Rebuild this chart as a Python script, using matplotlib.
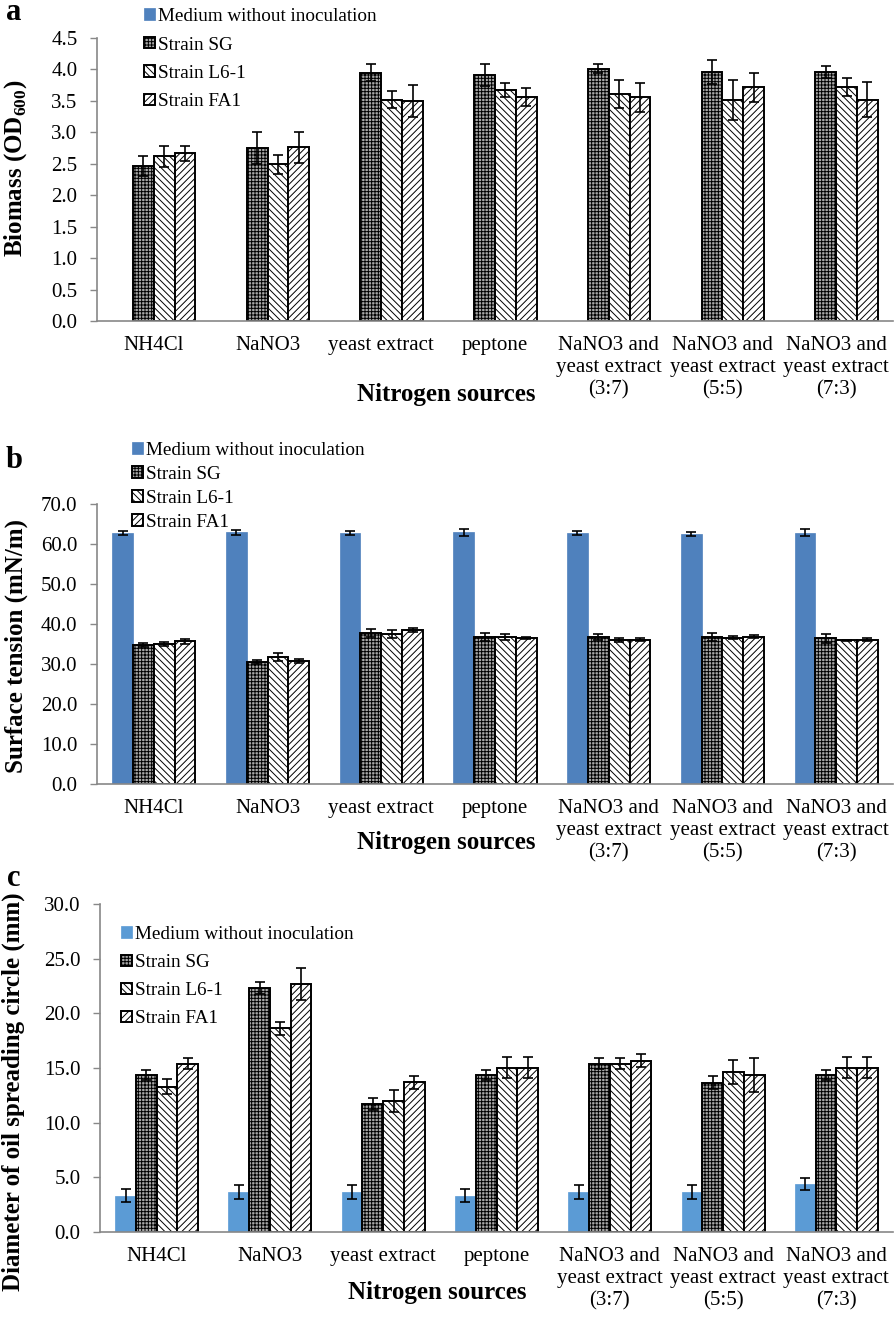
import numpy as np
import matplotlib
matplotlib.use("Agg")
import matplotlib.pyplot as plt

plt.rcParams['font.family'] = ['Liberation Serif', 'DejaVu Serif']
plt.rcParams['mathtext.fontset'] = 'custom'
plt.rcParams['mathtext.rm'] = 'Liberation Serif'
plt.rcParams['mathtext.bf'] = 'Liberation Serif:bold'
plt.rcParams['hatch.linewidth'] = 0.7

categories = ["NH4Cl", "NaNO3", "yeast extract", "peptone",
              "NaNO3 and\nyeast extract\n(3:7)",
              "NaNO3 and\nyeast extract\n(5:5)",
              "NaNO3 and\nyeast extract\n(7:3)"]
series = ["Medium without inoculation", "Strain SG", "Strain L6-1", "Strain FA1"]

# Panel a: biomass (OD600)
bio_medium = [0, 0, 0, 0, 0, 0, 0]
bio_medium_err = [0, 0, 0, 0, 0, 0, 0]
bio_sg = [2.46, 2.75, 3.95, 3.91, 4.01, 3.96, 3.96]
bio_sg_err = [0.16, 0.26, 0.13, 0.17, 0.07, 0.19, 0.09]
bio_l61 = [2.62, 2.49, 3.52, 3.67, 3.61, 3.51, 3.72]
bio_l61_err = [0.17, 0.15, 0.14, 0.11, 0.23, 0.32, 0.15]
bio_fa1 = [2.67, 2.76, 3.50, 3.56, 3.56, 3.72, 3.52]
bio_fa1_err = [0.12, 0.25, 0.26, 0.14, 0.23, 0.23, 0.28]

# Panel b: surface tension (mN/m)
st_medium = [62.7, 62.9, 62.7, 62.9, 62.7, 62.5, 62.8]
st_medium_err = [0.5, 0.6, 0.5, 0.9, 0.5, 0.5, 0.9]
st_sg = [34.7, 30.5, 37.8, 36.8, 36.7, 36.8, 36.4]
st_sg_err = [0.5, 0.4, 1.0, 1.0, 0.7, 1.0, 1.2]
st_l61 = [35.0, 31.8, 37.5, 36.7, 36.0, 36.6, 35.9]
st_l61_err = [0.5, 1.0, 1.0, 0.8, 0.5, 0.4, 0.2]
st_fa1 = [35.7, 30.7, 38.5, 36.5, 36.1, 36.8, 36.1]
st_fa1_err = [0.6, 0.5, 0.6, 0.3, 0.4, 0.4, 0.3]

# Panel c: diameter of oil spreading circle (mm)
oil_medium = [3.32, 3.66, 3.66, 3.32, 3.66, 3.66, 4.36]
oil_medium_err = [0.6, 0.6, 0.6, 0.6, 0.6, 0.6, 0.55]
oil_sg = [14.36, 22.35, 11.71, 14.36, 15.37, 13.66, 14.36]
oil_sg_err = [0.5, 0.55, 0.55, 0.5, 0.5, 0.6, 0.5]
oil_l61 = [13.3, 18.63, 11.99, 15.03, 15.37, 14.67, 15.03]
oil_l61_err = [0.65, 0.6, 1.03, 0.95, 0.5, 1.1, 0.95]
oil_fa1 = [15.37, 22.69, 13.69, 15.03, 15.67, 14.33, 15.03]
oil_fa1_err = [0.5, 1.5, 0.6, 0.95, 0.58, 1.55, 0.95]

W, H = 896, 1317
fig = plt.figure(figsize=(W / 100, H / 100), dpi=100)

def fx(px):
    return px / W

def fy(py):
    return 1 - py / H

FS = 15
LFS = 13.8
hatches = [None, '+++++', '\\\\\\\\\\', '/////']
faces = [None, '#a8a8a8', 'white', 'white']

def panel(rect, data, errs, ymax, ystep, ylabel, letter, letter_xy,
          blue, leg_xy, leg_spacing, xlabel_xy, ylab_xy):
    ax = fig.add_axes(rect)
    x = np.arange(len(categories))
    w = 0.183
    handles = []
    for i in range(4):
        pos = x + (i - 1.5) * w
        vals = np.array(data[i], dtype=float)
        if i == 0:
            b = ax.bar(pos, vals, w, color=blue, edgecolor=blue, linewidth=0.5,
                       label=series[i], zorder=2)
        else:
            b = ax.bar(pos, vals, w, facecolor=faces[i], edgecolor='black',
                       hatch=hatches[i], linewidth=1.4, label=series[i], zorder=2)
        handles.append(b)
        e = np.array(errs[i], dtype=float)
        mask = vals > 0
        if mask.any():
            ax.errorbar(pos[mask], vals[mask], yerr=e[mask], fmt='none',
                        ecolor='black', elinewidth=1.2, capsize=3.4,
                        capthick=1.2, zorder=3)
    ax.set_xlim(-0.5, len(categories) - 0.5)
    ax.set_ylim(0, ymax)
    ax.set_yticks(np.arange(0, ymax + ystep / 2, ystep))
    ax.yaxis.set_major_formatter(matplotlib.ticker.FormatStrFormatter('%.1f'))
    ax.set_xticks(x)
    ax.set_xticklabels(categories, fontsize=FS, linespacing=1.2)
    ax.tick_params(axis='x', length=0, pad=11)
    ax.tick_params(axis='y', length=5, width=1.0, color='#888888', pad=9,
                   labelsize=FS)
    for s in ['top', 'right']:
        ax.spines[s].set_visible(False)
    for s in ['left', 'bottom']:
        ax.spines[s].set_color('#888888')
        ax.spines[s].set_linewidth(1.2)
    fig.text(fx(ylab_xy[0]), fy(ylab_xy[1]), ylabel, rotation=90, ha='center',
             va='center', fontsize=18, fontweight='bold')
    fig.text(fx(xlabel_xy[0]), fy(xlabel_xy[1]), "Nitrogen sources",
             ha='center', va='center', fontsize=18, fontweight='bold')
    fig.text(fx(letter_xy[0]), fy(letter_xy[1]), letter, ha='center',
             va='center', fontsize=22, fontweight='bold')
    fig.legend(handles=handles, loc='upper left',
               bbox_to_anchor=(fx(leg_xy[0]), fy(leg_xy[1])),
               frameon=False, fontsize=LFS, handlelength=0.55,
               handleheight=0.55, handletextpad=0.2, borderpad=0,
               borderaxespad=0, labelspacing=leg_spacing)
    return ax

panel([fx(97), fy(321), fx(893 - 97), 283 / H],
      [bio_medium, bio_sg, bio_l61, bio_fa1],
      [bio_medium_err, bio_sg_err, bio_l61_err, bio_fa1_err],
      4.5, 0.5, r"Biomass (OD$_{\mathbf{600}}$)", 'a', (14, 13),
      '#4F81BD', (144, 8), 0.6, (446, 395), (16, 168))

panel([fx(97), fy(784), fx(893 - 97), 280 / H],
      [st_medium, st_sg, st_l61, st_fa1],
      [st_medium_err, st_sg_err, st_l61_err, st_fa1_err],
      70, 10, "Surface tension (mN/m)", 'b', (14, 460),
      '#4F81BD', (132, 442), 0.36, (446, 843), (16, 646))

panel([fx(100), fy(1232), fx(893 - 100), 328 / H],
      [oil_medium, oil_sg, oil_l61, oil_fa1],
      [oil_medium_err, oil_sg_err, oil_l61_err, oil_fa1_err],
      30, 5, "Diameter of oil spreading circle (mm)", 'c', (14, 878),
      '#5B9BD5', (121, 926), 0.58, (437, 1292), (13, 1092))

fig.savefig("out.png", dpi=100)
